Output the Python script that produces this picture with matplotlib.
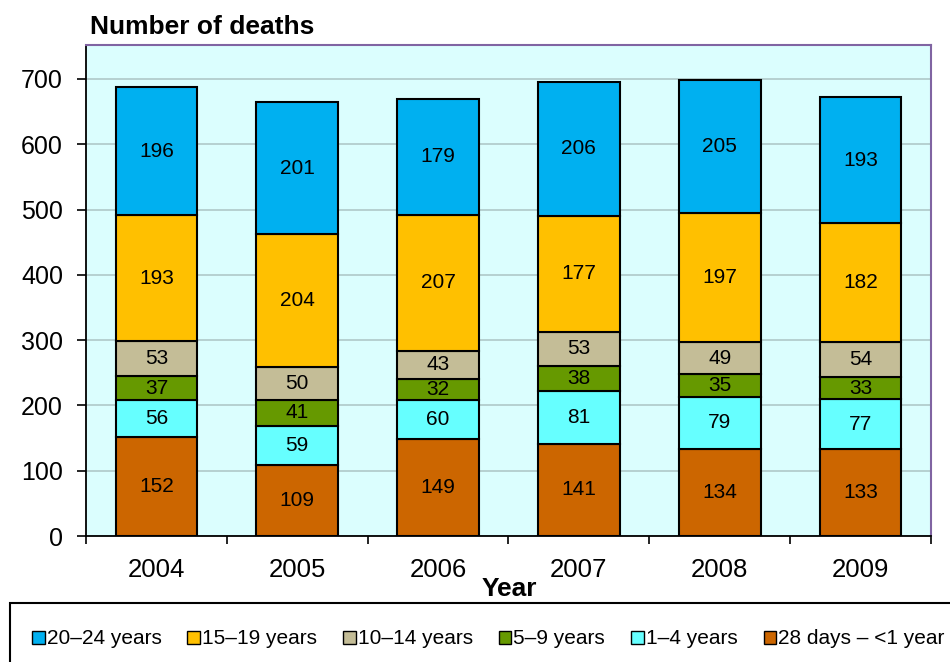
import matplotlib.pyplot as plt
from matplotlib.patches import Rectangle, Patch

years = ["2004", "2005", "2006", "2007", "2008", "2009"]

# de abajo hacia arriba
d28_1y = [152, 109, 149, 141, 134, 133]
y1_4 = [56, 59, 60, 81, 79, 77]
y5_9 = [37, 41, 32, 38, 35, 33]
y10_14 = [53, 50, 43, 53, 49, 54]
y15_19 = [193, 204, 207, 177, 197, 182]
y20_24 = [196, 201, 179, 206, 205, 193]

series = [
    ("28 days \u2013 <1 year", d28_1y, "#CC6600"),
    ("1\u20134 years", y1_4, "#66FFFF"),
    ("5\u20139 years", y5_9, "#669900"),
    ("10\u201314 years", y10_14, "#C4BD97"),
    ("15\u201319 years", y15_19, "#FFC000"),
    ("20\u201324 years", y20_24, "#00B0F0"),
]

plt.rcParams["font.family"] = ["Liberation Sans", "DejaVu Sans"]

fig = plt.figure(figsize=(9.5, 6.62), dpi=100)
ax = fig.add_axes([86 / 950, 1 - 536 / 662, (931 - 86) / 950, (536 - 45) / 662])
ax.set_facecolor("#DBFEFE")

x = list(range(len(years)))
base = [0] * len(years)
for nombre, vals, color in series:
    ax.bar(x, vals, bottom=base, width=0.58, color=color, edgecolor="black",
           linewidth=1.5, zorder=3)
    for i, v in enumerate(vals):
        ax.text(x[i], base[i] + v / 2, str(v), ha="center", va="center",
                fontsize=15, zorder=4)
    base = [b + v for b, v in zip(base, vals)]

ax.set_xlim(-0.5, len(years) - 0.5)
ax.set_ylim(0, 752)
ax.set_yticks(range(0, 701, 100))
ax.tick_params(axis="y", labelsize=18, length=6.5, width=1.2, direction="out", pad=10)
ax.set_xticks(x)
ax.set_xticklabels(years)
ax.set_xticks([i - 0.5 for i in range(len(years) + 1)], minor=True)
ax.tick_params(axis="x", which="major", length=0, labelsize=18.5, pad=16)
ax.tick_params(axis="x", which="minor", length=5.5, width=1.2, direction="out")
ax.grid(axis="y", color="#AFC8C8", linewidth=1.2, zorder=1)

ax.spines["left"].set_color("black")
ax.spines["bottom"].set_color("black")
ax.spines["left"].set_linewidth(1.3)
ax.spines["bottom"].set_linewidth(1.3)
ax.spines["top"].set_color("#8064A2")
ax.spines["right"].set_color("#8064A2")
ax.spines["top"].set_linewidth(1.5)
ax.spines["right"].set_linewidth(1.5)

fig.text(90 / 950, 1 - 27 / 662, "Number of deaths", fontsize=19,
         fontweight="bold", ha="left", va="center")
fig.text(509 / 950, 1 - 589 / 662, "Year", fontsize=19, fontweight="bold",
         ha="center", va="center")

# caja de la leyenda (se corta por la derecha como en el original)
fig.patches.append(Rectangle((10 / 950, 1 - 675 / 662), 960 / 950, 72 / 662,
                             transform=fig.transFigure, facecolor="white",
                             edgecolor="black", linewidth=1.5, clip_on=False))

handles = [Patch(facecolor=c, edgecolor="black", linewidth=1) for _, _, c in series[::-1]]
labels = [n for n, _, _ in series[::-1]]
fig.legend(handles, labels, loc="center left", bbox_to_anchor=(32 / 950, 1 - 639 / 662),
           ncol=6, frameon=False, fontsize=15, handlelength=0.6, handleheight=0.6,
           handletextpad=0.1, columnspacing=1.25, borderaxespad=0, borderpad=0)

fig.savefig("out.png", dpi=100)
